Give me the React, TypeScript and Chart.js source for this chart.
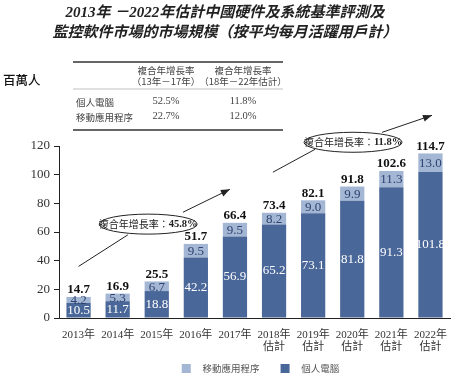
import { useEffect, useRef } from 'react';
import { Chart, registerables } from 'chart.js';

Chart.register(...registerables);

const SERIF = "'Liberation Serif', 'Noto Sans CJK TC', serif";
const CJK = "'Noto Sans CJK TC', 'Liberation Serif', sans-serif";

const categories: string[][] = [
  ['2013年'], ['2014年'], ['2015年'], ['2016年'], ['2017年'],
  ['2018年', '估計'], ['2019年', '估計'], ['2020年', '估計'], ['2021年', '估計'], ['2022年', '估計'],
];
const pcValues = [10.5, 11.7, 18.8, 42.2, 56.9, 65.2, 73.1, 81.8, 91.3, 101.8];
const mobileValues = [4.2, 5.3, 6.7, 9.5, 9.5, 8.2, 9.0, 9.9, 11.3, 13.0];
const totals = [14.7, 16.9, 25.5, 51.7, 66.4, 73.4, 82.1, 91.8, 102.6, 114.7];
const seriesNames = ['個人電腦', '移動應用程序'];

const titleLines = ['2013年 －2022年估計中國硬件及系統基準評測及', '監控軟件市場的市場規模（按平均每月活躍用戶計）'];
const unitLabel = '百萬人';
const tableHeader1 = ['複合年增長率', '複合年增長率'];
const tableHeader2 = ['（13年－17年）', '（18年－22年估計）'];
const tableRowNames = ['個人電腦', '移動應用程序'];
const tableCol1 = ['52.5%', '22.7%'];
const tableCol2 = ['11.8%', '12.0%'];
const cagrLabel = '複合年增長率：';
const cagrValues = ['45.8%', '11.8%'];

const DARK = '#4a6799';
const LIGHT = '#a3b6d4';

function makeSwatch(color: string): HTMLCanvasElement {
  const c = document.createElement('canvas');
  c.width = 28;
  c.height = 9;
  const g = c.getContext('2d')!;
  g.fillStyle = color;
  g.fillRect(12, 0, 9, 9);
  return c;
}

export default function App() {
  const ref = useRef<HTMLCanvasElement>(null);

  useEffect(() => {
    document.body.style.margin = '0';
    const labelPlugin = {
      id: 'labels',
      afterDatasetsDraw(chart: any) {
        const ctx = chart.ctx;
        const pcMeta = chart.getDatasetMeta(0);
        const mobMeta = chart.getDatasetMeta(1);
        ctx.save();
        ctx.textAlign = 'center';
        ctx.textBaseline = 'middle';
        pcMeta.data.forEach((bar: any, i: number) => {
          const { x, y, base } = bar.getProps(['x', 'y', 'base'], true);
          ctx.fillStyle = '#ffffff';
          ctx.font = `13px ${SERIF}`;
          ctx.fillText(pcValues[i].toFixed(1), x, (y + base) / 2);
        });
        mobMeta.data.forEach((bar: any, i: number) => {
          const { x, y, base } = bar.getProps(['x', 'y', 'base'], true);
          ctx.fillStyle = '#2d4270';
          ctx.font = `13px ${SERIF}`;
          ctx.fillText(mobileValues[i].toFixed(1), x, (y + base) / 2 + 1);
          ctx.fillStyle = '#111';
          ctx.font = `bold 13px ${SERIF}`;
          ctx.fillText(totals[i].toFixed(1), x, y - 7);
        });
        ctx.restore();
      },
    };

    const decorPlugin = {
      id: 'decor',
      afterDraw(chart: any) {
        const ctx = chart.ctx;
        const xs = chart.scales.x;
        const ys = chart.scales.y;
        const px = (v: number) => xs.getPixelForValue(v);
        const py = (v: number) => ys.getPixelForValue(v);
        ctx.save();
        // Title
        ctx.fillStyle = '#222';
        ctx.textAlign = 'center';
        ctx.textBaseline = 'middle';
        ctx.font = `italic bold 15px ${SERIF}`;
        ctx.fillText(titleLines[0], 225, 13);
        ctx.fillText(titleLines[1], 225, 33);
        // Unit
        ctx.textAlign = 'left';
        ctx.font = `500 12.5px ${CJK}`;
        ctx.fillStyle = '#111';
        ctx.fillText(unitLabel, 3, 80);
        // Table
        const tL = 73, tR = 283;
        ctx.strokeStyle = '#333';
        ctx.lineWidth = 1.5;
        ctx.beginPath(); ctx.moveTo(tL, 62); ctx.lineTo(tR, 62); ctx.stroke();
        ctx.beginPath(); ctx.moveTo(tL, 130); ctx.lineTo(tR, 130); ctx.stroke();
        ctx.lineWidth = 0.6;
        ctx.strokeStyle = '#999';
        ctx.beginPath(); ctx.moveTo(tL, 89); ctx.lineTo(tR, 89); ctx.stroke();
        const c1 = 166, c2 = 243;
        ctx.fillStyle = '#444';
        ctx.textAlign = 'center';
        ctx.font = `9.5px ${CJK}`;
        ctx.fillText(tableHeader1[0], c1, 70);
        ctx.fillText(tableHeader1[1], c2, 70);
        ctx.fillText(tableHeader2[0], c1, 81);
        ctx.fillText(tableHeader2[1], c2, 81);
        ctx.textAlign = 'left';
        ctx.font = `9.5px ${CJK}`;
        ctx.fillText(tableRowNames[0], 76, 102);
        ctx.fillText(tableRowNames[1], 76, 117);
        ctx.textAlign = 'center';
        ctx.font = `10.5px ${SERIF}`;
        ctx.fillText(tableCol1[0], c1, 101);
        ctx.fillText(tableCol2[0], c2, 101);
        ctx.fillText(tableCol1[1], c1, 116);
        ctx.fillText(tableCol2[1], c2, 116);

        // Annotations
        const drawAnno = (
          lineStart: number[], lineEnd: number[], center: number[],
          arrowStart: number[], arrowEnd: number[], value: string,
        ) => {
          ctx.strokeStyle = '#222';
          ctx.lineWidth = 1;
          ctx.beginPath();
          ctx.moveTo(px(lineStart[0]), py(lineStart[1]));
          ctx.lineTo(px(lineEnd[0]), py(lineEnd[1]));
          ctx.stroke();
          const cx = px(center[0]), cy = py(center[1]);
          ctx.beginPath();
          ctx.ellipse(cx, cy, 49, 10, 0, 0, Math.PI * 2);
          ctx.fillStyle = '#fff';
          ctx.fill();
          ctx.stroke();
          const ax = px(arrowStart[0]), ay = py(arrowStart[1]);
          const bx = px(arrowEnd[0]), by = py(arrowEnd[1]);
          ctx.beginPath(); ctx.moveTo(ax, ay); ctx.lineTo(bx, by); ctx.stroke();
          const ang = Math.atan2(by - ay, bx - ax);
          ctx.beginPath();
          ctx.moveTo(bx, by);
          ctx.lineTo(bx - 9 * Math.cos(ang) + 3.5 * Math.sin(ang), by - 9 * Math.sin(ang) - 3.5 * Math.cos(ang));
          ctx.lineTo(bx - 9 * Math.cos(ang) - 3.5 * Math.sin(ang), by - 9 * Math.sin(ang) + 3.5 * Math.cos(ang));
          ctx.closePath();
          ctx.fillStyle = '#222';
          ctx.fill();
          ctx.textBaseline = 'middle';
          ctx.textAlign = 'left';
          ctx.font = `10px ${CJK}`;
          const w1 = ctx.measureText(cagrLabel).width;
          ctx.font = `bold 10.5px ${SERIF}`;
          const w2 = ctx.measureText(value).width;
          const sx = cx - (w1 + w2) / 2;
          ctx.font = `10px ${CJK}`;
          ctx.fillStyle = '#222';
          ctx.fillText(cagrLabel, sx, cy);
          ctx.font = `bold 10.5px ${SERIF}`;
          ctx.fillText(value, sx + w1, cy + 0.5);
        };
        drawAnno([0, 36], [1.26, 58], [1.78, 65.5], [2.67, 73.8], [3.87, 89.8], cagrValues[0]);
        drawAnno([4.97, 101.7], [6.05, 117.7], [7.02, 122.6], [7.76, 129.5], [9.04, 141.4], cagrValues[1]);
        ctx.restore();
      },
    };

    const chart = new Chart(ref.current!, {
      type: 'bar',
      data: {
        labels: categories,
        datasets: [
          { label: seriesNames[0], data: pcValues, backgroundColor: DARK, barPercentage: 0.62, categoryPercentage: 1 },
          { label: seriesNames[1], data: mobileValues, backgroundColor: LIGHT, barPercentage: 0.62, categoryPercentage: 1 },
        ],
      },
      options: {
        responsive: false,
        animation: false,
        devicePixelRatio: 1,
        layout: { padding: { top: 146, right: 15, left: 0, bottom: 0 } },
        plugins: {
          title: { display: false },
          tooltip: { enabled: false },
          legend: {
            position: 'bottom',
            fullSize: false,
            reverse: true,
            maxHeight: 23,
            labels: {
              usePointStyle: true,
              pointStyleWidth: 28,
              boxWidth: 9,
              boxHeight: 9,
              padding: 9,
              color: '#555',
              font: { size: 9.5, family: CJK },
              generateLabels: (c: any) => {
                const items = (Chart.defaults.plugins.legend.labels as any).generateLabels(c);
                return items.map((it: any) => ({
                  ...it,
                  pointStyle: makeSwatch(c.data.datasets[it.datasetIndex].backgroundColor),
                }));
              },
            },
          },
        },
        scales: {
          x: {
            stacked: true,
            offset: true,
            grid: { drawOnChartArea: false, drawTicks: false },
            border: { display: true, color: '#222', width: 1 },
            ticks: {
              color: '#333',
              padding: 10.5,
              maxRotation: 0,
              autoSkip: false,
              font: { size: 11, family: SERIF, lineHeight: 1.15 },
            },
            afterFit: (s: any) => { s.height = 37; },
          },
          y: {
            stacked: true,
            min: 0,
            max: 120,
            grid: { drawOnChartArea: false, drawTicks: true, tickLength: 5, color: '#222' },
            border: { display: true, color: '#222', width: 1 },
            ticks: {
              stepSize: 20,
              color: '#333',
              padding: 4,
              font: { size: 13, family: SERIF },
            },
            afterFit: (s: any) => { s.width = 59; },
          },
        },
      },
      plugins: [labelPlugin, decorPlugin],
    } as any);
    return () => chart.destroy();
  }, []);

  return (
    <div style={{ width: 465, height: 378, position: 'relative', background: '#fff' }}>
      <canvas ref={ref} width={465} height={378} style={{ display: 'block' }} />
    </div>
  );
}
